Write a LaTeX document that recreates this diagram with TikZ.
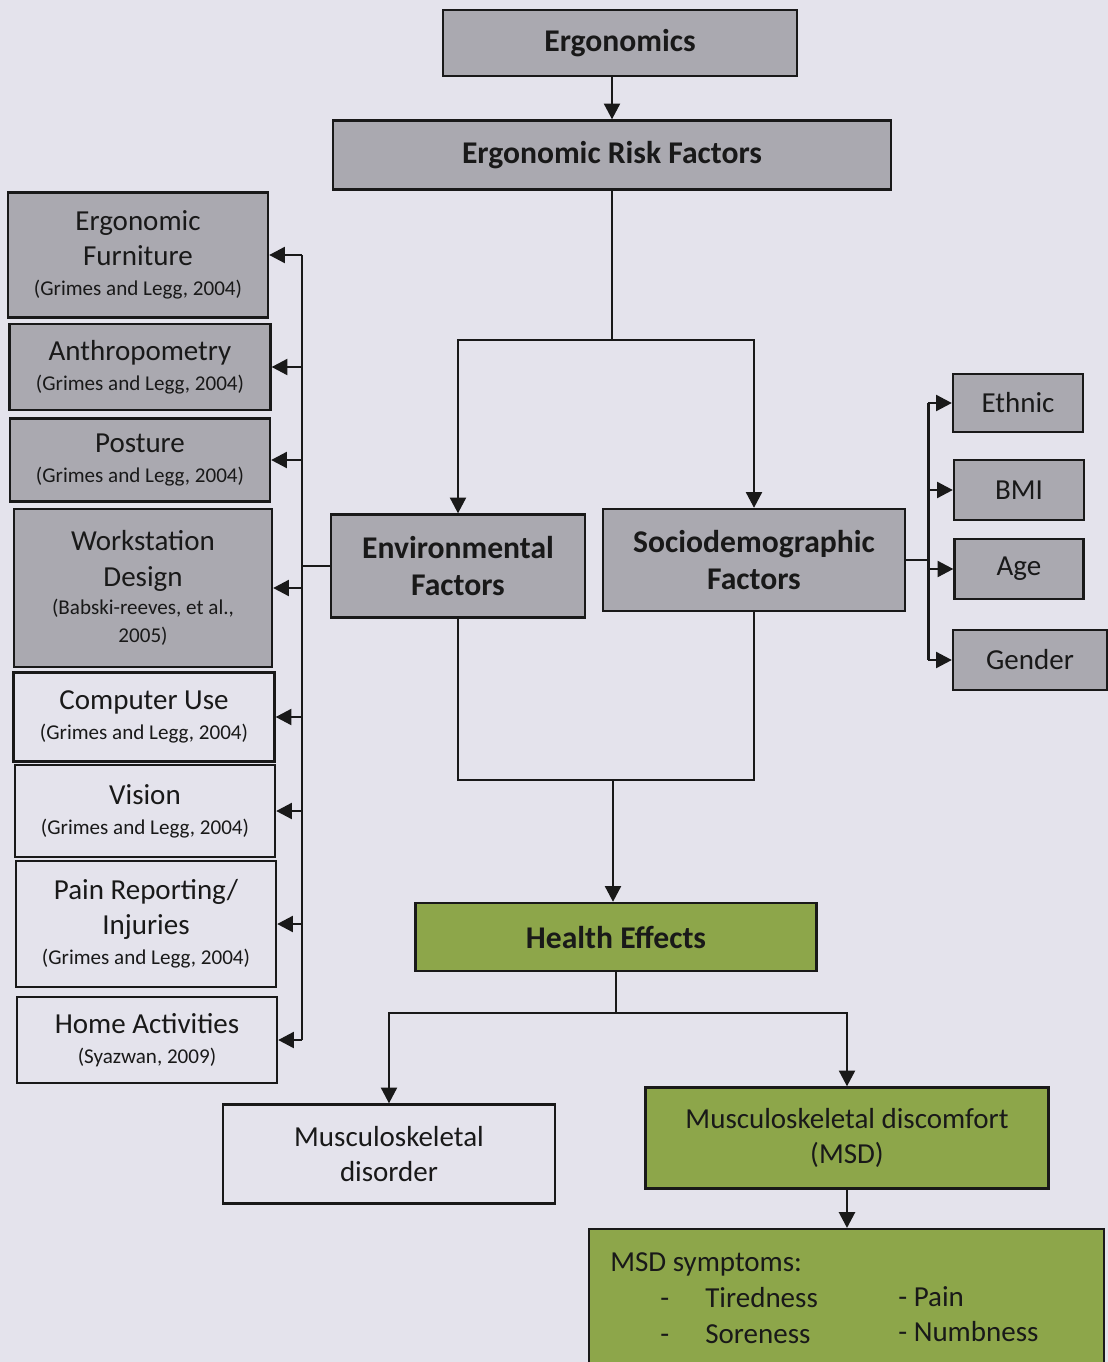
\documentclass[tikz,border=0pt]{standalone}
\usepackage{fontspec}
\setmainfont{Carlito}
\usetikzlibrary{arrows.meta,positioning}

\definecolor{pagebg}{RGB}{228,227,236}
\definecolor{boxgray}{RGB}{170,169,176}
\definecolor{boxgreen}{RGB}{141,166,74}
\definecolor{ink}{RGB}{25,25,25}

\newcommand{\refnote}[1]{{\fontsize{12}{14}\selectfont #1}}

\begin{document}
\begin{tikzpicture}[x=0.02cm,y=-0.02cm,
    box/.style={draw=ink,line width=1.3pt,align=center,text=ink,inner sep=2pt},
    graybox/.style={box,fill=boxgray},
    greenbox/.style={box,fill=boxgreen},
    plainbox/.style={box,fill=pagebg},
    headtext/.style={font=\fontsize{18}{21.5}\selectfont\bfseries},
    bodytext/.style={font=\fontsize{16.5}{20}\selectfont},
    arr/.style={draw=ink,line width=1.6pt,-{Triangle[length=9pt,width=9pt]}},
    bus/.style={draw=ink,line width=1.7pt},
    link/.style={draw=ink,line width=0.9pt}]

        \fill[pagebg] (0,0) rectangle (1108,1362);
        \useasboundingbox (0,0) rectangle (1108,1362);

        % top of the chart
        \node[graybox,headtext,minimum width=7.08cm,minimum height=1.32cm] (ergo) at (620,43) {Ergonomics};
        \node[graybox,headtext,minimum width=11.16cm,minimum height=1.38cm] (risk) at (612,155) {Ergonomic Risk Factors};

        \node[graybox,headtext,minimum width=5.08cm,minimum height=2.06cm] (env) at (458,566) {Environmental\\Factors};
        \node[graybox,headtext,minimum width=6.04cm,minimum height=2.04cm] (socio) at (754,560) {Sociodemographic\\Factors};

        % left column
        \node[graybox,bodytext,minimum width=5.2cm,minimum height=2.5cm] (furn) at (138,255) {Ergonomic\\Furniture\\[-3pt]\refnote{(Grimes and Legg, 2004)}};
        \node[graybox,bodytext,minimum width=5.22cm,minimum height=1.72cm] (anthro) at (140,367) {Anthropometry\\[-3pt]\refnote{(Grimes and Legg, 2004)}};
        \node[graybox,bodytext,minimum width=5.2cm,minimum height=1.66cm] (posture) at (140,460) {Posture\\[-3pt]\refnote{(Grimes and Legg, 2004)}};
        \node[graybox,bodytext,minimum width=5.16cm,minimum height=3.16cm] (work) at (143,588) {Workstation\\Design\\[-4pt]\refnote{(Babski-reeves, et al.,}\\[-4pt]\refnote{2005)}};
        \node[plainbox,bodytext,minimum width=5.22cm,minimum height=1.78cm] (computer) at (144,717) {Computer Use\\[-3pt]\refnote{(Grimes and Legg, 2004)}};
        \node[plainbox,bodytext,minimum width=5.2cm,minimum height=1.84cm] (vision) at (145,811) {Vision\\[-3pt]\refnote{(Grimes and Legg, 2004)}};
        \node[plainbox,bodytext,minimum width=5.2cm,minimum height=2.52cm] (pain) at (146,924) {Pain Reporting/\\Injuries\\[-3pt]\refnote{(Grimes and Legg, 2004)}};
        \node[plainbox,bodytext,minimum width=5.2cm,minimum height=1.72cm] (home) at (147,1040) {Home Activities\\[-3pt]\refnote{(Syazwan, 2009)}};

        % right column
        \node[graybox,bodytext,minimum width=2.6cm,minimum height=1.16cm] (ethnic) at (1018,403) {Ethnic};
        \node[graybox,bodytext,minimum width=2.6cm,minimum height=1.2cm] (bmi) at (1019,490) {BMI};
        \node[graybox,bodytext,minimum width=2.58cm,minimum height=1.2cm] (age) at (1019,569) {Age};
        \node[graybox,bodytext,minimum width=3.08cm,minimum height=1.2cm] (gender) at (1030,660) {Gender};

        % bottom part
        \node[greenbox,headtext,minimum width=8.02cm,minimum height=1.36cm] (health) at (616,937) {Health Effects};
        \node[plainbox,bodytext,minimum width=6.64cm,minimum height=1.98cm] (disorder) at (389,1154) {Musculoskeletal\\disorder};
        \node[greenbox,bodytext,minimum width=8.06cm,minimum height=2.02cm] (msd) at (847,1138) {Musculoskeletal discomfort\\(MSD)};
        \node[greenbox,minimum width=10.3cm,minimum height=2.96cm,anchor=north west] (symp) at (588,1228) {};

        \node[bodytext,text=ink,anchor=base west,inner sep=0pt] (symhead) at (610,1271) {MSD symptoms:};
        \node[bodytext,text=ink,anchor=base west,inner sep=0pt] (dasha) at (660,1307) {-};
        \node[bodytext,text=ink,anchor=base west,inner sep=0pt] (tired) at (705,1307) {Tiredness};
        \node[bodytext,text=ink,anchor=base west,inner sep=0pt] (painsym) at (898,1306) {- Pain};
        \node[bodytext,text=ink,anchor=base west,inner sep=0pt] (dashb) at (660,1343) {-};
        \node[bodytext,text=ink,anchor=base west,inner sep=0pt] (sore) at (705,1343) {Soreness};
        \node[bodytext,text=ink,anchor=base west,inner sep=0pt] (numb) at (898,1341) {- Numbness};

        % junctions and buses
        \coordinate (splittop) at (612,340);
        \coordinate (joinmid) at (613,780);
        \coordinate (splitlow) at (616,1013);
        \coordinate (lbus) at (302,566);
        \coordinate (rbus) at (928,565);

        \draw[arr] (ergo.south -| risk.north) -- (risk.north);
        \draw[link] (risk) -- (splittop);
        \draw[arr] (splittop) -| (env.north);
        \draw[arr] (splittop) -| (socio.north);

        \draw[link] (env.south) |- (joinmid);
        \draw[link] (socio.south) |- (joinmid);
        \draw[arr] (joinmid) -- (health.north -| joinmid);

        \draw[link] (health) -- (splitlow);
        \draw[arr] (splitlow) -| (disorder.north);
        \draw[arr] (splitlow) -| (msd.north);
        \draw[arr] (msd) -- (symp.north -| msd.south);

        % environmental factors to the left column
        \draw[bus] (env.west) -- (lbus);
        \draw[bus] (lbus |- furn.east) -- (lbus |- home.east);
        \foreach \n in {furn,anthro,posture,work,computer,vision,pain,home}
            \draw[arr] (lbus |- \n.east) -- (\n.east);

        % sociodemographic factors to the right column
        \draw[bus] (socio.east) -- (rbus |- socio.east);
        \draw[bus] (rbus |- ethnic.west) -- (rbus |- gender.west);
        \foreach \n in {ethnic,bmi,age,gender}
            \draw[arr] (rbus |- \n.west) -- (\n.west);
\end{tikzpicture}
\end{document}
